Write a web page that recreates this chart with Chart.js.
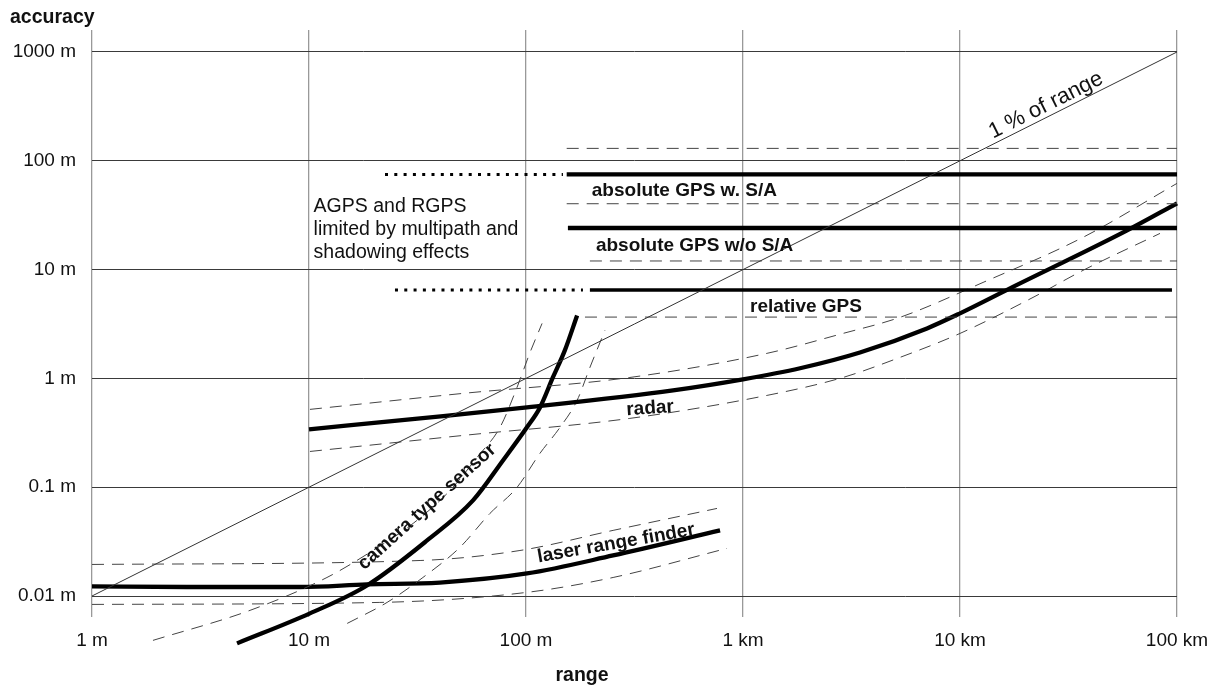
<!DOCTYPE html>
<html lang="en">
<head>
<meta charset="UTF-8">
<title>accuracy vs range</title>
<script src="https://cdn.jsdelivr.net/npm/chart.js"></script>
<style>
  html, body { margin: 0; background: #fff; }
</style>
</head>
<body>
<canvas id="viz" width="1217" height="688"></canvas>
<script>
// axis decades
const rangeTicks = [1, 10, 100, 1000, 10000, 100000]
const rangeLabels = ['1 m', '10 m', '100 m', '1 km', '10 km', '100 km']
const accuracyTicks = [0.01, 0.1, 1, 10, 100, 1000]
const accuracyLabels = ['0.01 m', '0.1 m', '1 m', '10 m', '100 m', '1000 m']

// 1 % of range
const onePercentX = [1, 100000]
const onePercentY = [0.01, 1000]

// absolute GPS with S/A
const gpsSaX = [154, 100000]
const gpsSaY = [75, 75]
const gpsSaUpper = [130, 130]
const gpsSaLower = [40.3, 40.3]
const gpsSaDotX = [22.4, 148]

// absolute GPS without S/A
const gpsX = [156, 100000]
const gpsY = [24.1, 24.1]
const gpsLowerX = [197, 100000]
const gpsLower = [12.0, 12.0]

// relative GPS
const relGpsX = [197, 94800]
const relGpsY = [6.5, 6.5]
const relGpsLowerX = [187, 100000]
const relGpsLower = [3.66, 3.66]
const relGpsDotX = [24.9, 183]

// radar
const radarX = [10, 32.5, 101, 476, 1000, 1832, 3459, 7046, 10000, 17000, 58900, 100000]
const radarY = [0.34, 0.429, 0.541, 0.776, 0.98, 1.24, 1.73, 2.88, 3.96, 6.72, 22.9, 40.6]
const radarUpperX = [10.1, 51.3, 301, 1291, 2890, 5290, 12770, 36900, 100000]
const radarUpperY = [0.519, 0.728, 1.02, 1.70, 2.59, 3.64, 7.62, 19.8, 62.0]
const radarLowerX = [10.1, 51.3, 301, 1291, 2890, 5290, 10000, 21700, 36900, 83500]
const radarLowerY = [0.213, 0.299, 0.429, 0.698, 1.02, 1.56, 2.59, 5.55, 9.84, 21.5]

// camera type sensor
const cameraX = [4.66, 10.1, 18.5, 35.0, 57.0, 78.3, 101, 116, 133, 151, 172]
const cameraY = [0.00367, 0.00692, 0.0125, 0.0324, 0.0756, 0.176, 0.355, 0.541, 1.02, 1.81, 3.79]
const cameraLeftX = [1.91, 5.35, 12.1, 19.7, 30.2, 44.7, 59.5, 75.9, 90.9, 104, 118.6]
const cameraLeftY = [0.00391, 0.00738, 0.0148, 0.0262, 0.0465, 0.0935, 0.188, 0.355, 0.826, 1.70, 3.2]
const cameraRightX = [15.0, 22.9, 33.5, 49.6, 68.2, 90.9, 116, 143.5, 172, 197, 231]
const cameraRightY = [0.0056, 0.00873, 0.0148, 0.028, 0.0574, 0.0996, 0.205, 0.355, 0.628, 1.26, 2.76]

// laser range finder
const laserX = [1, 2.74, 9.1, 18.5, 40.1, 101, 252, 784]
const laserY = [0.01225, 0.0121, 0.0121, 0.0128, 0.0133, 0.0161, 0.0236, 0.0401]
const laserUpperX = [1, 32.5, 93.8, 252, 759]
const laserUpperY = [0.0195, 0.0212, 0.0262, 0.0401, 0.0638]
const laserLowerX = [1, 21.2, 101, 252, 844]
const laserLowerY = [0.00837, 0.00873, 0.0108, 0.0148, 0.0274]

const FONT = '"Liberation Sans", Arial, Helvetica, sans-serif'

const pts = (xs, ys) => xs.map((x, i) => ({ x: x, y: ys[i] }))
const flat = (xs, v) => xs.map(x => ({ x: x, y: v }))

function thick(data, w) {
    return { data: data, borderColor: '#000', borderWidth: w || 4.3, pointRadius: 0, clip: false,
             cubicInterpolationMode: 'monotone', borderCapStyle: 'butt' }
}
function dashed(data) {
    return { data: data, borderColor: '#444', borderWidth: 1, borderDash: [12, 8], pointRadius: 0,
             clip: false, cubicInterpolationMode: 'monotone' }
}
function dotted(data) {
    return { data: data, borderColor: '#000', borderWidth: 3, borderDash: [3, 6.3], pointRadius: 0,
             clip: false, borderCapStyle: 'butt' }
}

const datasets = [
    { data: pts(onePercentX, onePercentY), borderColor: '#333', borderWidth: 1, pointRadius: 0, clip: false },

    dashed(flat(gpsSaX, gpsSaUpper[0])),
    dashed(flat(gpsSaX, gpsSaLower[0])),
    thick(pts(gpsSaX, gpsSaY)),
    dotted(flat(gpsSaDotX, gpsSaY[0])),

    thick(pts(gpsX, gpsY)),
    dashed(flat(gpsLowerX, gpsLower[0])),

    thick(pts(relGpsX, relGpsY), 3.5),
    dashed(flat(relGpsLowerX, relGpsLower[0])),
    dotted(flat(relGpsDotX, relGpsY[0])),

    dashed(pts(radarUpperX, radarUpperY)),
    dashed(pts(radarLowerX, radarLowerY)),
    thick(pts(radarX, radarY)),

    dashed(pts(cameraLeftX, cameraLeftY)),
    dashed(pts(cameraRightX, cameraRightY)),
    thick(pts(cameraX, cameraY)),

    dashed(pts(laserUpperX, laserUpperY)),
    dashed(pts(laserLowerX, laserLowerY)),
    thick(pts(laserX, laserY))
]

// text placed at data positions
const notes = [
    { lines: ['1 % of range'], x: 24900, y: 323, angle: -26.6, font: '22px ' + FONT, align: 'center', base: 'middle' },
    { lines: ['AGPS and RGPS', 'limited by multipath and', 'shadowing effects'], x: 10.5, y: 33.6, angle: 0,
      font: '19.5px ' + FONT, align: 'left', base: 'alphabetic', lh: 23 },
    { lines: ['absolute GPS w. S/A'], x: 201, y: 47.1, angle: 0, font: 'bold 19px ' + FONT, align: 'left', base: 'alphabetic' },
    { lines: ['absolute GPS w/o S/A'], x: 210, y: 14.8, angle: 0, font: 'bold 19px ' + FONT, align: 'left', base: 'alphabetic' },
    { lines: ['relative GPS'], x: 1077, y: 4.07, angle: 0, font: 'bold 19px ' + FONT, align: 'left', base: 'alphabetic' },
    { lines: ['radar'], x: 373, y: 0.53, angle: -4, font: 'bold 19px ' + FONT, align: 'center', base: 'middle' },
    { lines: ['laser range finder'], x: 260, y: 0.0304, angle: -10, font: 'bold 19px ' + FONT, align: 'center', base: 'middle' },
    { lines: ['camera type sensor'], x: 35, y: 0.066, angle: -42, font: 'bold 19px ' + FONT, align: 'center', base: 'middle' }
]

const notesPlugin = {
    id: 'notes',
    afterDatasetsDraw(chart) {
        const ctx = chart.ctx
        const xs = chart.scales.x
        const ys = chart.scales.y
        const area = chart.chartArea
        ctx.save()
        ctx.fillStyle = '#111'
        for (const n of notes) {
            ctx.save()
            ctx.translate(xs.getPixelForValue(n.x), ys.getPixelForValue(n.y))
            ctx.rotate(n.angle * Math.PI / 180)
            ctx.font = n.font
            ctx.textAlign = n.align
            ctx.textBaseline = n.base
            n.lines.forEach((t, i) => ctx.fillText(t, 0, i * (n.lh || 0)))
            ctx.restore()
        }
        // axis titles
        ctx.font = 'bold 19.5px ' + FONT
        ctx.textBaseline = 'alphabetic'
        ctx.textAlign = 'left'
        ctx.fillText('accuracy', 10, area.top - 7)
        ctx.textAlign = 'center'
        ctx.fillText('range', area.left + 490, area.bottom + 64)
        ctx.restore()
    }
}

new Chart(document.getElementById('viz'), {
    type: 'line',
    data: { datasets: datasets },
    plugins: [notesPlugin],
    options: {
        responsive: false,
        animation: false,
        layout: { padding: { left: 0, right: 40, top: 30, bottom: 0 } },
        plugins: { legend: { display: false }, tooltip: { enabled: false } },
        scales: {
            x: {
                type: 'logarithmic',
                min: 1,
                max: 100000,
                afterBuildTicks: s => { s.ticks = rangeTicks.map(v => ({ value: v })) },
                afterFit: s => { s.height = 71; s.paddingLeft = 0; s.paddingRight = 0 },
                border: { display: false },
                grid: { color: '#999', lineWidth: 1.3, drawTicks: false },
                ticks: {
                    autoSkip: false, maxRotation: 0, padding: 12, color: '#111',
                    font: { family: FONT, size: 19 },
                    callback: v => rangeLabels[rangeTicks.indexOf(v)]
                }
            },
            y: {
                type: 'logarithmic',
                min: Math.pow(10, -2.193),
                max: Math.pow(10, 3.202),
                afterBuildTicks: s => { s.ticks = accuracyTicks.map(v => ({ value: v })) },
                afterFit: s => { s.width = 92 },
                border: { display: false },
                grid: { color: '#3a3a3a', lineWidth: 1, drawTicks: false },
                ticks: {
                    autoSkip: false, padding: 16, color: '#111',
                    font: { family: FONT, size: 19 },
                    callback: v => accuracyLabels[accuracyTicks.indexOf(v)]
                }
            }
        }
    }
})
</script>
</body>
</html>
